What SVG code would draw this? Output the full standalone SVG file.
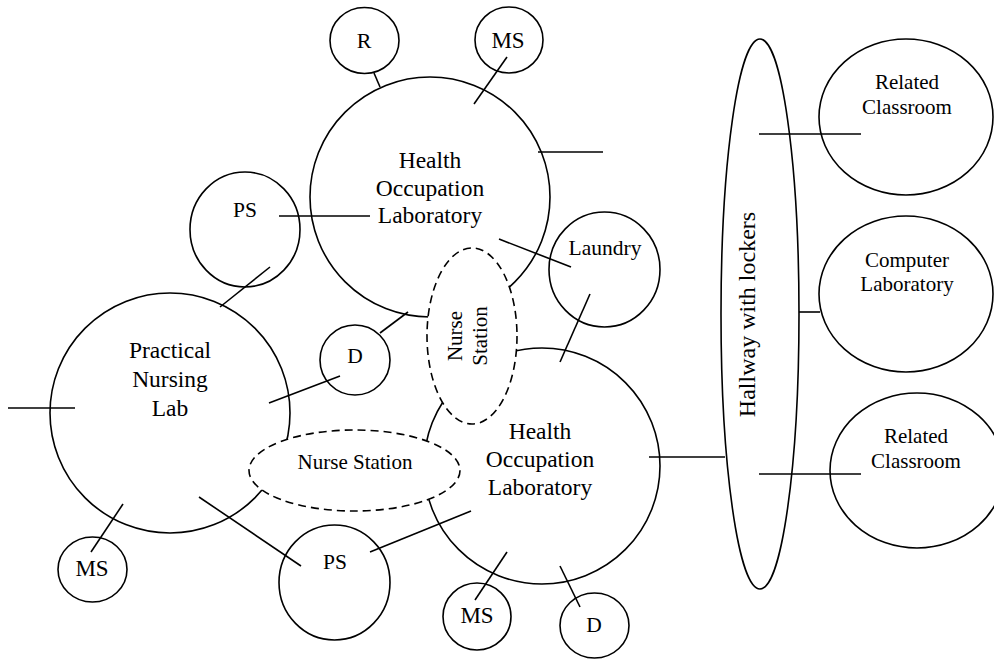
<svg xmlns="http://www.w3.org/2000/svg" width="994" height="660" viewBox="0 0 994 660">
<style>
.n{fill:none;stroke:#000;stroke-width:1.6}
.ns{fill:#fff;stroke:#000;stroke-width:1.6;stroke-dasharray:8,5}
.c line{stroke:#000;stroke-width:1.6}
text{font-family:"Liberation Serif","Times New Roman",serif;fill:#000;text-anchor:middle}
.b{font-size:23.5px}
.s{font-size:21.5px}
</style>
<rect width="994" height="660" fill="#fff"/>
<g id="hol-top"><circle class="n" cx="430" cy="197" r="120"/><text class="b"><tspan x="430" y="168">Health</tspan><tspan x="430" y="196">Occupation</tspan><tspan x="430" y="223">Laboratory</tspan></text></g>
<g id="r"><ellipse class="n" cx="364.5" cy="40.5" rx="34.5" ry="33"/><text class="s" x="364" y="48" style="font-size:22px">R</text></g>
<g id="ms-top"><ellipse class="n" cx="509" cy="40" rx="34" ry="33"/><text class="s" x="508" y="48" style="font-size:23px">MS</text></g>
<g id="ps-top"><ellipse class="n" cx="245" cy="229.5" rx="55" ry="57.5"/><text class="s" x="245" y="217">PS</text></g>
<g id="pnl"><circle class="n" cx="170" cy="413" r="120"/><text class="b"><tspan x="170" y="358">Practical</tspan><tspan x="170" y="387">Nursing</tspan><tspan x="170" y="416">Lab</tspan></text></g>
<g id="d-left"><ellipse class="n" cx="355" cy="360" rx="35" ry="35"/><text class="s" x="355" y="363">D</text></g>
<g id="laundry"><ellipse class="n" cx="604.5" cy="269.5" rx="55.5" ry="57.5"/><text class="s" x="605" y="255">Laundry</text></g>
<g id="hol-bottom"><circle class="n" cx="542" cy="466" r="118"/><text class="b"><tspan x="540" y="439">Health</tspan><tspan x="540" y="467">Occupation</tspan><tspan x="540" y="495">Laboratory</tspan></text></g>
<g id="ms-left"><ellipse class="n" cx="92.5" cy="569.5" rx="34.5" ry="32.5"/><text class="s" x="92" y="576" style="font-size:23px">MS</text></g>
<g id="ps-bottom"><ellipse class="n" cx="334.5" cy="582.5" rx="55.5" ry="57.5"/><text class="s" x="335" y="569">PS</text></g>
<g id="ms-bottom"><ellipse class="n" cx="477" cy="616.5" rx="34" ry="33.5"/><text class="s" x="477" y="623" style="font-size:23px">MS</text></g>
<g id="d-bottom"><ellipse class="n" cx="594.5" cy="625.5" rx="34.5" ry="32.5"/><text class="s" x="594" y="632">D</text></g>
<g id="hallway"><ellipse class="n" cx="760" cy="314" rx="39" ry="275"/><text class="s" transform="translate(755,314.5) rotate(-90)" x="0" y="0" style="font-size:24px">Hallway with lockers</text></g>
<g id="rc-top"><ellipse class="n" cx="906" cy="117" rx="87" ry="78"/><text class="s" style="font-size:21px"><tspan x="907" y="89">Related</tspan><tspan x="907" y="114">Classroom</tspan></text></g>
<g id="computer-lab"><ellipse class="n" cx="906" cy="294" rx="87" ry="78"/><text class="s" style="font-size:21px"><tspan x="907" y="267">Computer</tspan><tspan x="907" y="291">Laboratory</tspan></text></g>
<g id="rc-bottom"><ellipse class="n" cx="917" cy="470.5" rx="87" ry="77.5"/><text class="s" style="font-size:21px"><tspan x="916" y="443">Related</tspan><tspan x="916" y="468">Classroom</tspan></text></g>
<g id="connectors" class="c">
<line x1="374" y1="73" x2="380" y2="87"/>
<line x1="507" y1="57" x2="474" y2="104"/>
<line x1="538" y1="152" x2="603" y2="152"/>
<line x1="279" y1="216" x2="370" y2="216"/>
<line x1="270" y1="267" x2="220" y2="307"/>
<line x1="8" y1="408" x2="75" y2="408"/>
<line x1="380" y1="333" x2="408" y2="312"/>
<line x1="340" y1="376" x2="269" y2="403"/>
<line x1="499" y1="239" x2="571" y2="267"/>
<line x1="590" y1="294" x2="560" y2="362"/>
<line x1="649" y1="457" x2="725" y2="457"/>
<line x1="123" y1="504" x2="91" y2="552"/>
<line x1="199" y1="497" x2="301" y2="566"/>
<line x1="370" y1="552" x2="471" y2="511"/>
<line x1="507" y1="552" x2="475" y2="600"/>
<line x1="560" y1="566" x2="580" y2="607"/>
<line x1="759" y1="134" x2="861" y2="134"/>
<line x1="799" y1="312" x2="820" y2="312"/>
<line x1="759" y1="474" x2="861" y2="474"/>
</g>
<g id="nurse-station-v"><ellipse class="ns" cx="472" cy="336" rx="45" ry="88"/><text class="s" transform="translate(472,336) rotate(-90)" style="font-size:21px"><tspan x="0" y="-10">Nurse</tspan><tspan x="0" y="15">Station</tspan></text></g>
<g id="nurse-station-h"><ellipse class="ns" cx="354.5" cy="470.5" rx="105.5" ry="40.5"/><text class="s" x="355" y="469" style="font-size:21px">Nurse Station</text></g>
</svg>
